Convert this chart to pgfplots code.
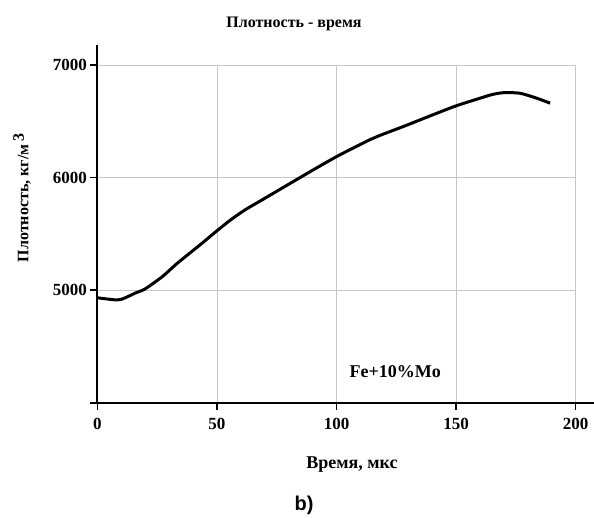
\documentclass[border=0pt]{standalone}
\usepackage{pgfplots}
\pgfplotsset{compat=1.18}
\usepackage{fontspec}
\setmainfont{Liberation Serif}
\newfontfamily\arial{Liberation Sans}
\begin{document}
\begin{tikzpicture}[x=1pt,y=1pt]
\path (-97.3,-109.3) rectangle (496.7,402.7);
\begin{axis}[
 at={(0,0)}, anchor=south west,
 scale only axis, width=478.4pt, height=337.7pt,
 xmin=0, xmax=200, ymin=4000, ymax=7000,
 axis x line*=bottom, axis y line*=left,
 x axis line style={line width=1.8pt, shorten <=-7pt, shorten >=-19pt, -},
 y axis line style={line width=1.8pt, shorten >=-20pt, -},
 xtick={0,50,100,150,200}, xticklabels={0,50,100,150,200},
 ytick={5000,6000,7000}, yticklabels={5000,6000,7000},
 tick align=outside, major tick length=7pt,
 tick style={line width=1.5pt, black},
 grid=major, major grid style={line width=0.6pt, color=black!22},
 ticklabel style={font=\bfseries\fontsize{17}{17}\selectfont},
 xticklabel style={yshift=-5pt},
 clip=false,
]
\addplot[line width=3pt, black, smooth, tension=0.45] coordinates {
(0,4932) (3,4924) (7.4,4914) (10,4918) (12.8,4943) (16,4975) (20,5011)
(26.9,5115) (30,5173) (33.9,5247) (40.8,5365) (45,5438) (50,5527) (55.5,5620)
(61.7,5712) (69.4,5808) (83.4,5983) (90,6065) (100.8,6195) (114,6337)
(118.2,6375) (128,6454) (140,6555) (150,6637) (160,6705) (165,6737)
(169.8,6754) (176.7,6749) (183.7,6705) (189.3,6661)
};
\node[anchor=west, font=\bfseries\fontsize{18}{18}\selectfont] at (axis cs:104,4280) {Fe+10\%Mo};
\end{axis}
\node[font=\bfseries\fontsize{16}{16}\selectfont] at (196.7,378.7) {Плотность - время};
\node[font=\bfseries\fontsize{18}{18}\selectfont] at (254.7,-62.3) {Время, мкс};
\node[rotate=90, font=\bfseries\fontsize{16}{16}\selectfont] at (-75.3,204.7) {Плотность, кг/м\,\raisebox{0.6ex}{3}};
\node[font=\arial\bfseries\fontsize{20}{20}\selectfont] at (206.7,-102.3) {b)};
\end{tikzpicture}
\end{document}
